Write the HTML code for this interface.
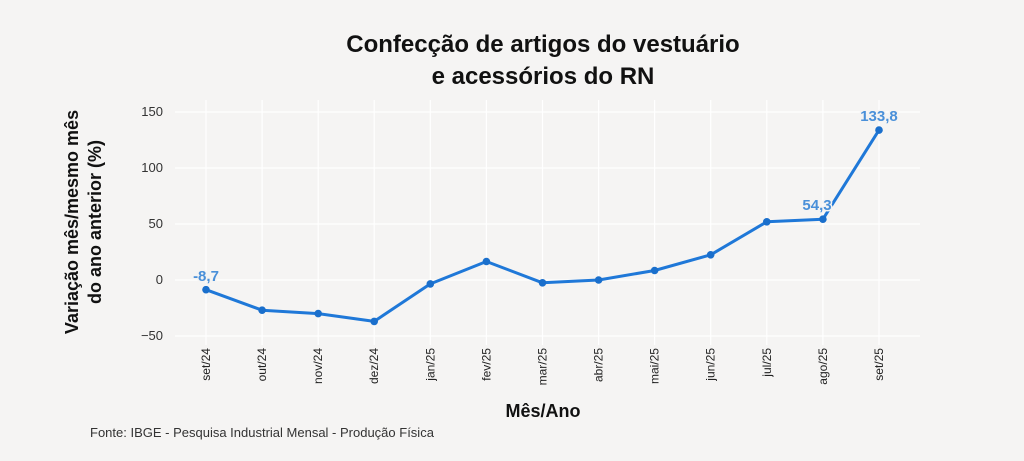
<!DOCTYPE html>
<html><head><meta charset="utf-8"><style>
html,body{margin:0;padding:0;background:#f5f4f3;}
svg{display:block;font-family:"Liberation Sans",sans-serif;}
</style></head><body>
<svg width="1024" height="461" viewBox="0 0 1024 461">
<rect width="1024" height="461" fill="#f5f4f3"/>
<g stroke="#ffffff" stroke-width="1.2">
<line x1="175" x2="920" y1="112" y2="112"/>
<line x1="175" x2="920" y1="168" y2="168"/>
<line x1="175" x2="920" y1="224" y2="224"/>
<line x1="175" x2="920" y1="280" y2="280"/>
<line x1="175" x2="920" y1="336" y2="336"/>
<line x1="206" x2="206" y1="100" y2="345"/>
<line x1="262.1" x2="262.1" y1="100" y2="345"/>
<line x1="318.2" x2="318.2" y1="100" y2="345"/>
<line x1="374.2" x2="374.2" y1="100" y2="345"/>
<line x1="430.3" x2="430.3" y1="100" y2="345"/>
<line x1="486.4" x2="486.4" y1="100" y2="345"/>
<line x1="542.5" x2="542.5" y1="100" y2="345"/>
<line x1="598.6" x2="598.6" y1="100" y2="345"/>
<line x1="654.6" x2="654.6" y1="100" y2="345"/>
<line x1="710.7" x2="710.7" y1="100" y2="345"/>
<line x1="766.8" x2="766.8" y1="100" y2="345"/>
<line x1="822.9" x2="822.9" y1="100" y2="345"/>
<line x1="879" x2="879" y1="100" y2="345"/>
</g>
<g font-size="13" fill="#333" text-anchor="end">
<text x="163" y="116">150</text>
<text x="163" y="172">100</text>
<text x="163" y="228">50</text>
<text x="163" y="284">0</text>
<text x="163" y="340">−50</text>
</g>
<g font-size="12" fill="#222" text-anchor="end">
<text transform="translate(210,348) rotate(-90)">set/24</text>
<text transform="translate(266.1,348) rotate(-90)">out/24</text>
<text transform="translate(322.2,348) rotate(-90)">nov/24</text>
<text transform="translate(378.2,348) rotate(-90)">dez/24</text>
<text transform="translate(434.3,348) rotate(-90)">jan/25</text>
<text transform="translate(490.4,348) rotate(-90)">fev/25</text>
<text transform="translate(546.5,348) rotate(-90)">mar/25</text>
<text transform="translate(602.6,348) rotate(-90)">abr/25</text>
<text transform="translate(658.6,348) rotate(-90)">mai/25</text>
<text transform="translate(714.7,348) rotate(-90)">jun/25</text>
<text transform="translate(770.8,348) rotate(-90)">jul/25</text>
<text transform="translate(826.9,348) rotate(-90)">ago/25</text>
<text transform="translate(883,348) rotate(-90)">set/25</text>
</g>
<polyline fill="none" stroke="#1f78d8" stroke-width="3" stroke-linejoin="round"
points="206,289.7 262.1,310.2 318.2,313.6 374.2,321.4 430.3,283.9 486.4,261.5 542.5,282.8 598.6,280 654.6,270.5 710.7,254.8 766.8,221.8 822.9,219.2 879,130.1"/>
<g fill="#1a6fcc">
<circle cx="206" cy="289.7" r="3.8"/><circle cx="262.1" cy="310.2" r="3.8"/><circle cx="318.2" cy="313.6" r="3.8"/><circle cx="374.2" cy="321.4" r="3.8"/><circle cx="430.3" cy="283.9" r="3.8"/><circle cx="486.4" cy="261.5" r="3.8"/><circle cx="542.5" cy="282.8" r="3.8"/><circle cx="598.6" cy="280" r="3.8"/><circle cx="654.6" cy="270.5" r="3.8"/><circle cx="710.7" cy="254.8" r="3.8"/><circle cx="766.8" cy="221.8" r="3.8"/><circle cx="822.9" cy="219.2" r="3.8"/><circle cx="879" cy="130.1" r="3.8"/>
</g>
<g font-size="15" font-weight="bold" fill="#4a90d9" text-anchor="middle" stroke="#f5f4f3" stroke-width="3" paint-order="stroke">
<text x="206" y="281">-8,7</text>
<text x="817" y="210">54,3</text>
<text x="879" y="121">133,8</text>
</g>
<g font-size="24" font-weight="bold" fill="#111" text-anchor="middle">
<text x="543" y="52">Confecção de artigos do vestuário</text>
<text x="543" y="84">e acessórios do RN</text>
</g>
<g font-size="18" font-weight="bold" fill="#111" text-anchor="middle">
<text transform="translate(78,222) rotate(-90)">Variação mês/mesmo mês</text>
<text transform="translate(101,222) rotate(-90)">do ano anterior (%)</text>
<text x="543" y="417">Mês/Ano</text>
</g>
<text x="90" y="437" font-size="13" fill="#333">Fonte: IBGE - Pesquisa Industrial Mensal - Produção Física</text>
</svg>
</body></html>
